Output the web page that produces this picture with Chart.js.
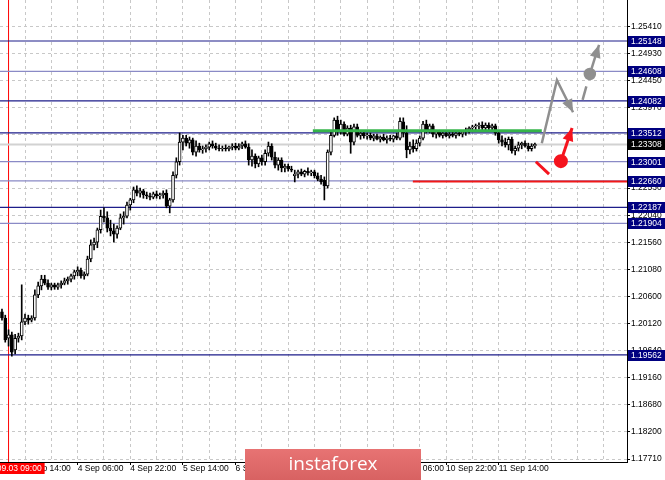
<!DOCTYPE html>
<html>
<head>
<meta charset="utf-8">
<title>EURUSD H1</title>
<script src="https://cdn.jsdelivr.net/npm/chart.js@4.4.0/dist/chart.umd.min.js"></script>
<style>
  html, body { margin: 0; padding: 0; background: #fff; }
  #chart { display: block; }
</style>
</head>
<body>
<canvas id="chart" width="665" height="480"></canvas>
<script>
// hourly candles, index 0 = 3 Sep 07:00
const OPEN = [
  1.2033, 1.2022, 1.1986, 1.1992, 1.1965, 1.1986, 1.1990, 1.2015, 1.2022, 1.2018,
  1.2022, 1.2063, 1.2079, 1.2091, 1.2084, 1.2077, 1.2081, 1.2077, 1.2081, 1.2084,
  1.2088, 1.2091, 1.2097, 1.2104, 1.2107, 1.2097, 1.2100, 1.2127, 1.2152, 1.2157,
  1.2179, 1.2203, 1.2200, 1.2182, 1.2177, 1.2171, 1.2182, 1.2200, 1.2203, 1.2223,
  1.2232, 1.2250, 1.2244, 1.2248, 1.2241, 1.2239, 1.2237, 1.2243, 1.2239, 1.2241,
  1.2244, 1.2221, 1.2232, 1.2276, 1.2300, 1.2335, 1.2342, 1.2333, 1.2339, 1.2317,
  1.2328, 1.2321, 1.2323, 1.2326, 1.2332, 1.2328, 1.2324, 1.2323, 1.2324, 1.2323,
  1.2326, 1.2328, 1.2324, 1.2328, 1.2332, 1.2326, 1.2303, 1.2310, 1.2296, 1.2307,
  1.2300, 1.2315, 1.2328, 1.2308, 1.2294, 1.2303, 1.2289, 1.2292, 1.2287, 1.2275,
  1.2278, 1.2282, 1.2278, 1.2283, 1.2280, 1.2282, 1.2275, 1.2269, 1.2267, 1.2257,
  1.2317, 1.2347, 1.2374, 1.2353, 1.2367, 1.2349, 1.2360, 1.2335, 1.2362, 1.2347,
  1.2351, 1.2346, 1.2347, 1.2342, 1.2346, 1.2340, 1.2344, 1.2339, 1.2342, 1.2340,
  1.2346, 1.2342, 1.2371, 1.2351, 1.2321, 1.2328, 1.2323, 1.2333, 1.2342, 1.2367,
  1.2356, 1.2364, 1.2349, 1.2353, 1.2347, 1.2351, 1.2346, 1.2349, 1.2347, 1.2351,
  1.2349, 1.2353, 1.2356, 1.2360, 1.2362, 1.2364, 1.2365, 1.2360, 1.2365, 1.2360,
  1.2364, 1.2351, 1.2339, 1.2335, 1.2330, 1.2340, 1.2319, 1.2324, 1.2330, 1.2333,
  1.2328, 1.2323, 1.2328
];
const HIGH = [
  1.2038, 1.2027, 1.2001, 1.1997, 1.1993, 1.1995, 1.2081, 1.2029, 1.2027, 1.2026,
  1.2072, 1.2086, 1.2098, 1.2098, 1.2090, 1.2084, 1.2084, 1.2084, 1.2088, 1.2093,
  1.2095, 1.2100, 1.2107, 1.2113, 1.2111, 1.2104, 1.2132, 1.2161, 1.2164, 1.2182,
  1.2214, 1.2218, 1.2211, 1.2196, 1.2189, 1.2186, 1.2207, 1.2211, 1.2228, 1.2235,
  1.2255, 1.2257, 1.2253, 1.2251, 1.2246, 1.2244, 1.2246, 1.2248, 1.2244, 1.2248,
  1.2250, 1.2235, 1.2282, 1.2307, 1.2351, 1.2347, 1.2347, 1.2344, 1.2342, 1.2337,
  1.2333, 1.2328, 1.2330, 1.2335, 1.2337, 1.2333, 1.2330, 1.2328, 1.2330, 1.2328,
  1.2332, 1.2333, 1.2332, 1.2335, 1.2337, 1.2332, 1.2321, 1.2314, 1.2310, 1.2312,
  1.2321, 1.2335, 1.2332, 1.2317, 1.2307, 1.2307, 1.2296, 1.2296, 1.2292, 1.2285,
  1.2285, 1.2287, 1.2285, 1.2289, 1.2285, 1.2285, 1.2280, 1.2276, 1.2273, 1.2321,
  1.2353, 1.2378, 1.2381, 1.2374, 1.2371, 1.2364, 1.2365, 1.2367, 1.2367, 1.2355,
  1.2355, 1.2351, 1.2351, 1.2349, 1.2349, 1.2346, 1.2349, 1.2346, 1.2347, 1.2347,
  1.2351, 1.2378, 1.2378, 1.2364, 1.2335, 1.2339, 1.2339, 1.2346, 1.2372, 1.2374,
  1.2367, 1.2367, 1.2356, 1.2356, 1.2355, 1.2355, 1.2353, 1.2355, 1.2355, 1.2355,
  1.2355, 1.2360, 1.2362, 1.2365, 1.2367, 1.2369, 1.2371, 1.2369, 1.2369, 1.2367,
  1.2367, 1.2356, 1.2346, 1.2342, 1.2344, 1.2344, 1.2328, 1.2335, 1.2335, 1.2337,
  1.2333, 1.2332, 1.2333
];
const LOW = [
  1.2018, 1.1979, 1.1972, 1.1954, 1.1958, 1.1979, 1.1983, 1.2010, 1.2011, 1.2015,
  1.2018, 1.2058, 1.2072, 1.2081, 1.2073, 1.2072, 1.2073, 1.2073, 1.2075, 1.2081,
  1.2082, 1.2086, 1.2091, 1.2097, 1.2093, 1.2091, 1.2097, 1.2122, 1.2143, 1.2147,
  1.2173, 1.2193, 1.2175, 1.2168, 1.2157, 1.2164, 1.2179, 1.2189, 1.2200, 1.2214,
  1.2227, 1.2239, 1.2237, 1.2235, 1.2234, 1.2232, 1.2234, 1.2235, 1.2234, 1.2235,
  1.2218, 1.2209, 1.2228, 1.2271, 1.2294, 1.2321, 1.2328, 1.2324, 1.2312, 1.2310,
  1.2317, 1.2315, 1.2317, 1.2321, 1.2324, 1.2321, 1.2319, 1.2319, 1.2319, 1.2319,
  1.2321, 1.2321, 1.2321, 1.2323, 1.2324, 1.2294, 1.2292, 1.2289, 1.2291, 1.2294,
  1.2294, 1.2310, 1.2303, 1.2289, 1.2285, 1.2282, 1.2282, 1.2283, 1.2282, 1.2264,
  1.2271, 1.2275, 1.2273, 1.2276, 1.2275, 1.2271, 1.2266, 1.2260, 1.2232, 1.2253,
  1.2312, 1.2344, 1.2347, 1.2349, 1.2346, 1.2346, 1.2315, 1.2330, 1.2344, 1.2340,
  1.2342, 1.2340, 1.2339, 1.2337, 1.2339, 1.2335, 1.2337, 1.2333, 1.2337, 1.2335,
  1.2339, 1.2339, 1.2344, 1.2307, 1.2314, 1.2317, 1.2319, 1.2328, 1.2339, 1.2351,
  1.2351, 1.2344, 1.2342, 1.2344, 1.2342, 1.2344, 1.2342, 1.2344, 1.2342, 1.2346,
  1.2344, 1.2347, 1.2351, 1.2355, 1.2356, 1.2358, 1.2356, 1.2355, 1.2356, 1.2355,
  1.2347, 1.2333, 1.2328, 1.2326, 1.2321, 1.2315, 1.2312, 1.2319, 1.2323, 1.2326,
  1.2319, 1.2319, 1.2324
];
const CLOSE = [
  1.2022, 1.1983, 1.1992, 1.1961, 1.1986, 1.1990, 1.2015, 1.2022, 1.2018, 1.2022,
  1.2063, 1.2079, 1.2091, 1.2084, 1.2077, 1.2081, 1.2077, 1.2081, 1.2084, 1.2088,
  1.2091, 1.2097, 1.2104, 1.2107, 1.2097, 1.2100, 1.2127, 1.2152, 1.2157, 1.2179,
  1.2203, 1.2200, 1.2182, 1.2177, 1.2171, 1.2182, 1.2200, 1.2203, 1.2223, 1.2232,
  1.2250, 1.2244, 1.2248, 1.2241, 1.2239, 1.2237, 1.2243, 1.2239, 1.2241, 1.2244,
  1.2221, 1.2232, 1.2276, 1.2300, 1.2335, 1.2342, 1.2333, 1.2339, 1.2317, 1.2328,
  1.2321, 1.2323, 1.2326, 1.2332, 1.2328, 1.2324, 1.2323, 1.2324, 1.2323, 1.2326,
  1.2328, 1.2324, 1.2328, 1.2332, 1.2326, 1.2303, 1.2310, 1.2296, 1.2307, 1.2300,
  1.2315, 1.2328, 1.2308, 1.2294, 1.2303, 1.2289, 1.2292, 1.2287, 1.2285, 1.2278,
  1.2282, 1.2278, 1.2283, 1.2280, 1.2282, 1.2275, 1.2269, 1.2264, 1.2257, 1.2317,
  1.2347, 1.2374, 1.2353, 1.2367, 1.2349, 1.2360, 1.2335, 1.2362, 1.2347, 1.2351,
  1.2346, 1.2347, 1.2342, 1.2346, 1.2340, 1.2344, 1.2339, 1.2342, 1.2340, 1.2346,
  1.2342, 1.2372, 1.2351, 1.2321, 1.2328, 1.2323, 1.2333, 1.2342, 1.2367, 1.2356,
  1.2364, 1.2349, 1.2353, 1.2347, 1.2351, 1.2346, 1.2349, 1.2347, 1.2351, 1.2349,
  1.2353, 1.2356, 1.2360, 1.2362, 1.2364, 1.2365, 1.2360, 1.2365, 1.2360, 1.2364,
  1.2351, 1.2339, 1.2335, 1.2330, 1.2340, 1.2319, 1.2324, 1.2330, 1.2333, 1.2328,
  1.2323, 1.2328, 1.23308
];

// bar index -> time label (every 16 bars), grid every 8 bars
const TIME_LABELS = {
  7: '3 Sep 14:00', 23: '4 Sep 06:00', 39: '4 Sep 22:00', 55: '5 Sep 14:00',
  71: '6 Sep 06:00', 87: '6 Sep 22:00', 103: '9 Sep 14:00', 119: '10 Sep 06:00',
  135: '10 Sep 22:00', 151: '11 Sep 14:00'
};
const X_GRID = [7, 15, 23, 31, 39, 47, 55, 63, 71, 79, 87, 95, 103, 111, 119, 127,
  135, 143, 151, 159, 167, 175, 183];
const MARK_BAR = 2;
const MARK_TEXT = '2019.09.03 09:00';

const Y_TICKS = [1.25410, 1.24930, 1.24450, 1.23970, 1.23490, 1.23010, 1.22530, 1.22040,
  1.21560, 1.21080, 1.20600, 1.20120, 1.19640, 1.19160, 1.18680, 1.18200, 1.17710];

const LEVELS = [1.25148, 1.24608, 1.24082, 1.23512, 1.23001, 1.22660, 1.22187, 1.21904, 1.19562];
const LIGHT_LEVELS = [1.24608, 1.23001, 1.22660, 1.21904];
const LAST_PRICE = CLOSE[CLOSE.length - 1];

// trade plan drawn on the chart (bar index, price)
const GREEN_ZONE = [{ x: 94.5, y: 1.2355 }, { x: 164.1, y: 1.2355 }];
const RED_ZONE = [{ x: 124.9, y: 1.2265 }, { x: 190, y: 1.2265 }];
const BUY_PATH = [{ x: 164.1, y: 1.2333 }, { x: 168.7, y: 1.2445 }, { x: 173.6, y: 1.2388 }];
const BUY_DASH = [{ x: 176.5, y: 1.2410 }, { x: 178.7, y: 1.2456 }];
const BUY_NEXT = [{ x: 178.7, y: 1.2456 }, { x: 181.5, y: 1.2508 }];
const SELL_STROKE = [{ x: 162.3, y: 1.2300 }, { x: 166.3, y: 1.2278 }];
const SELL_BACK = [{ x: 169.9, y: 1.2301 }, { x: 173.3, y: 1.2360 }];

const X_MIN = -0.6, X_MAX = 190;
const Y_MIN = 1.17658, Y_MAX = 1.25877;

const NAVY = '#1d1d8a';
const NAVY_LIGHT = '#8a8ac6';
const GREY_PLAN = '#8f8f8f';
const RED_PLAN = '#f5141e';

Chart.defaults.font.family = "'Liberation Sans', Arial, sans-serif";

const bars = OPEN.map((_, i) => i);
const wickData = bars.map(i => ({ x: i, y: [LOW[i], HIGH[i]] }));
const bodyData = bars.map(i => ({ x: i, y: [Math.min(OPEN[i], CLOSE[i]), Math.max(OPEN[i], CLOSE[i])] }));
const bodyFill = bars.map(i => CLOSE[i] >= OPEN[i] ? '#ffffff' : '#000000');

function hline(v) {
  return [{ x: X_MIN, y: v }, { x: X_MAX, y: v }];
}

function lineSet(data, color, width, extra) {
  return Object.assign({
    type: 'line', data, borderColor: color, backgroundColor: color, borderWidth: width,
    pointRadius: 0, tension: 0, fill: false
  }, extra || {});
}

const datasets = [
  lineSet(BUY_PATH, GREY_PLAN, 2.5, { order: 0, arrowHead: true }),
  lineSet(BUY_DASH, GREY_PLAN, 2.5, { order: 0, borderDash: [14, 9] }),
  lineSet(BUY_NEXT, GREY_PLAN, 2.5, { order: 0, arrowHead: true, pointRadius: [5, 0] }),
  lineSet(SELL_STROKE, RED_PLAN, 3, { order: 0 }),
  lineSet(SELL_BACK, RED_PLAN, 3, { order: 0, arrowHead: true, pointRadius: [5.5, 0] }),
  lineSet(GREEN_ZONE, '#35b44a', 3, { order: 1 }),
  lineSet(RED_ZONE, '#f01818', 2, { order: 1 }),
  {
    type: 'bar', data: bodyData, order: 2, grouped: false,
    backgroundColor: bodyFill, borderColor: '#000', borderWidth: 1, borderSkipped: false,
    barThickness: 3
  },
  {
    type: 'bar', data: wickData, order: 3, grouped: false,
    backgroundColor: '#000', borderWidth: 0, barThickness: 1
  },
  lineSet(hline(LAST_PRICE), '#d2d2d2', 2, { order: 4 }),
  ...LEVELS.map(v => lineSet(hline(v), LIGHT_LEVELS.includes(v) ? NAVY_LIGHT : NAVY, 1.2, { order: 5 })),
  lineSet([{ x: MARK_BAR, y: Y_MIN }, { x: MARK_BAR, y: Y_MAX }], '#ff0000', 1, { order: 6 })
];

const overlay = {
  id: 'overlay',
  afterDatasetsDraw(chart) {
    const ctx = chart.ctx;
    chart.data.datasets.forEach((ds, i) => {
      if (!ds.arrowHead) return;
      const pts = chart.getDatasetMeta(i).data;
      const a = pts[pts.length - 2], b = pts[pts.length - 1];
      const ang = Math.atan2(b.y - a.y, b.x - a.x);
      const len = 13, half = 5.5;
      ctx.save();
      ctx.fillStyle = ds.borderColor;
      ctx.beginPath();
      ctx.moveTo(b.x, b.y);
      ctx.lineTo(b.x - len * Math.cos(ang) + half * Math.sin(ang), b.y - len * Math.sin(ang) - half * Math.cos(ang));
      ctx.lineTo(b.x - len * Math.cos(ang) - half * Math.sin(ang), b.y - len * Math.sin(ang) + half * Math.cos(ang));
      ctx.closePath();
      ctx.fill();
      ctx.restore();
    });
  },
  afterDraw(chart) {
    const ctx = chart.ctx;
    const area = chart.chartArea;
    const ys = chart.scales.y, xs = chart.scales.x;
    ctx.save();
    ctx.font = "8.5px 'Liberation Sans', Arial, sans-serif";
    ctx.textBaseline = 'middle';

    // price boxes on the right axis
    const boxes = LEVELS.map(v => ({ v, bg: '#000080' })).concat([{ v: LAST_PRICE, bg: '#000000' }]);
    boxes.forEach(b => {
      const py = Math.round(ys.getPixelForValue(b.v));
      ctx.fillStyle = b.bg;
      ctx.fillRect(area.right + 1, py - 5, chart.width - area.right - 1, 11);
      ctx.fillStyle = '#fff';
      ctx.textAlign = 'left';
      ctx.fillText(b.v.toFixed(5), area.right + 4, py + 0.5);
    });

    // time label of the red vertical line
    const mx = xs.getPixelForValue(MARK_BAR);
    const tw = ctx.measureText(MARK_TEXT).width + 6;
    ctx.fillStyle = '#ff0000';
    ctx.fillRect(mx - tw / 2, area.bottom + 1, tw, 11);
    ctx.fillStyle = '#fff';
    ctx.textAlign = 'center';
    ctx.fillText(MARK_TEXT, mx, area.bottom + 6.5);

    // watermark
    const lx = 245, ly = 449, lw = 176, lh = 31;
    const g = ctx.createLinearGradient(0, ly, 0, ly + lh);
    g.addColorStop(0, '#e77373');
    g.addColorStop(1, '#d86262');
    ctx.fillStyle = g;
    ctx.fillRect(lx, ly, lw, lh);
    ctx.fillStyle = '#fff';
    ctx.font = "19px 'Open Sans', 'Noto Sans', sans-serif";
    ctx.textAlign = 'center';
    ctx.fillText('instaforex', lx + lw / 2, ly + lh / 2);
    ctx.restore();
  }
};

new Chart(document.getElementById('chart'), {
  type: 'line',
  data: { datasets },
  options: {
    responsive: false,
    animation: false,
    devicePixelRatio: 1,
    events: [],
    layout: { padding: 0, autoPadding: false },
    plugins: { legend: { display: false }, tooltip: { enabled: false } },
    scales: {
      x: {
        type: 'linear', min: X_MIN, max: X_MAX, offset: false,
        afterBuildTicks: s => { s.ticks = X_GRID.map(v => ({ value: v })); },
        afterFit: s => { s.height = 18; s.paddingLeft = 0; s.paddingRight = 0; },
        ticks: {
          autoSkip: false, maxRotation: 0, align: 'start', padding: -1, color: '#000',
          font: { size: 8.5 },
          callback: v => TIME_LABELS[v] || ''
        },
        grid: {
          offset: false, color: '#c8c8c8', lineWidth: 1, tickLength: 3,
          tickColor: c => (c.tick && TIME_LABELS[c.tick.value]) ? '#000' : 'rgba(0,0,0,0)'
        },
        border: { display: true, color: '#000', dash: [3, 3] }
      },
      y: {
        type: 'linear', position: 'right', min: Y_MIN, max: Y_MAX,
        afterBuildTicks: s => { s.ticks = Y_TICKS.map(v => ({ value: v })); },
        afterFit: s => { s.width = 38; s.paddingTop = 0; s.paddingBottom = 0; },
        ticks: { color: '#000', padding: 1, font: { size: 8.5 }, callback: v => v.toFixed(5) },
        grid: { color: '#c8c8c8', lineWidth: 1, tickLength: 3, tickColor: '#000' },
        border: { display: true, color: '#000', dash: [3, 3] }
      }
    }
  },
  plugins: [overlay]
});
</script>
</body>
</html>
